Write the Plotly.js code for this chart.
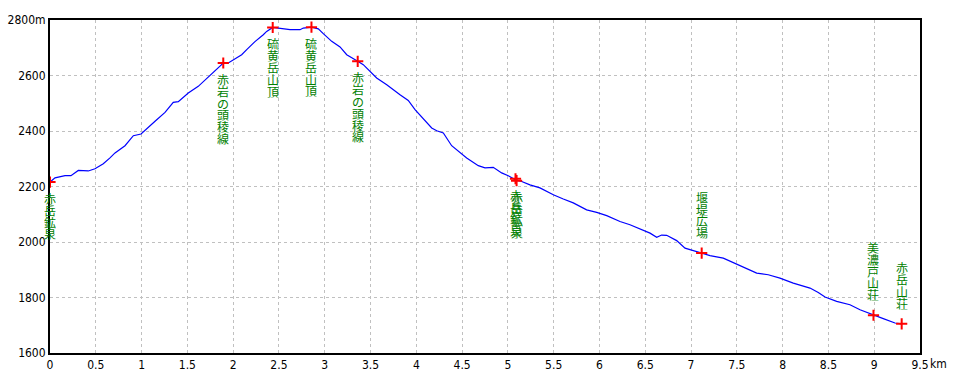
<!DOCTYPE html>
<html>
<head>
<meta charset="utf-8">
<script src="https://cdn.plot.ly/plotly-3.0.1.min.js"></script>
<style>
  html, body { margin: 0; padding: 0; background: #ffffff; }
  #chart { width: 960px; height: 384px; }
</style>
</head>
<body>
<div id="chart"></div>
<script>
// Elevation profile (distance in km, elevation in m)
const distKm = [0, 0.055, 0.164, 0.229, 0.309, 0.360, 0.418, 0.491, 0.582, 0.655,
  0.710, 0.819, 0.910, 0.994, 1.037, 1.147, 1.256, 1.346, 1.401, 1.510,
  1.619, 1.729, 1.802, 1.892, 1.947, 2.002, 2.093, 2.148, 2.238, 2.329,
  2.366, 2.432, 2.512, 2.621, 2.730, 2.766, 2.855, 2.930, 2.984, 3.076,
  3.167, 3.240, 3.360, 3.421, 3.567, 3.677, 3.822, 3.912, 3.986, 4.076,
  4.168, 4.223, 4.295, 4.386, 4.477, 4.550, 4.677, 4.750, 4.840, 4.932,
  5.004, 5.083, 5.151, 5.241, 5.350, 5.496, 5.605, 5.714, 5.860, 5.970,
  6.079, 6.224, 6.333, 6.478, 6.552, 6.625, 6.679, 6.734, 6.843, 6.934,
  7.024, 7.116, 7.207, 7.352, 7.498, 7.608, 7.717, 7.843, 7.971, 8.116,
  8.299, 8.389, 8.463, 8.590, 8.735, 8.845, 8.992, 9.099, 9.227, 9.300];
const elevM = [2216, 2231, 2239, 2239, 2258, 2258, 2256, 2264, 2282, 2303,
  2321, 2347, 2383, 2389, 2401, 2435, 2467, 2503, 2506, 2537,
  2561, 2595, 2618, 2645, 2645, 2657, 2675, 2693, 2722, 2747,
  2759, 2773, 2769, 2765, 2765, 2771, 2774, 2768, 2751, 2723,
  2703, 2675, 2651, 2639, 2591, 2567, 2531, 2510, 2477, 2443,
  2411, 2401, 2393, 2347, 2323, 2303, 2275, 2267, 2269, 2249,
  2239, 2224, 2218, 2206, 2195, 2170, 2155, 2141, 2116, 2107,
  2095, 2074, 2062, 2042, 2032, 2017, 2025, 2024, 2005, 1978,
  1969, 1960, 1951, 1942, 1921, 1906, 1888, 1882, 1870, 1852,
  1834, 1818, 1802, 1786, 1774, 1756, 1736, 1724, 1708, 1705];

// Waypoints
const wpNames = ['赤岳鉱泉', '赤岩の頭稜線', '硫黄岳山頂', '硫黄岳山頂', '赤岩の頭稜線',
  '赤岳鉱泉', '赤岳鉱泉', '堰堤広場', '美濃戸山荘', '赤岳山荘'];
const wpDist = [0, 1.892, 2.432, 2.855, 3.360, 5.083, 5.095, 7.116, 8.992, 9.300];
const wpElev = [2216, 2645, 2773, 2774, 2651, 2228, 2221, 1960, 1736, 1705];
const wpSide = ['below', 'below', 'below', 'below', 'below', 'below', 'below', 'above', 'above', 'above'];

// Axis ticks
const xTickVals = [0, 0.5, 1, 1.5, 2, 2.5, 3, 3.5, 4, 4.5, 5, 5.5, 6, 6.5, 7, 7.5, 8, 8.5, 9, 9.5];
const xTickText = ['0', '0.5', '1', '1.5', '2', '2.5', '3', '3.5', '4', '4.5', '5', '5.5', '6', '6.5', '7', '7.5', '8', '8.5', '9', '9.5'];
const yTickVals = [1600, 1800, 2000, 2200, 2400, 2600, 2800];
const yTickText = ['1600', '1800', '2000', '2200', '2400', '2600', '2800m'];

const tickFont = { family: '"Liberation Sans Narrow", "DejaVu Sans Condensed", "Liberation Sans", sans-serif', size: 12, color: '#000000' };
const cjkFont = { family: '"Noto Sans CJK JP", "Noto Sans CJK SC", sans-serif', size: 12, color: '#008000' };

const annotations = [];
const PITCH = 11.8;
wpNames.forEach((name, i) => {
  const chars = Array.from(name);
  const n = chars.length;
  chars.forEach((ch, j) => {
    const shift = wpSide[i] === 'below' ? -(17 + j * PITCH) : (20 + (n - 1 - j) * PITCH);
    annotations.push({
      x: wpDist[i], y: wpElev[i], xref: 'x', yref: 'y',
      text: ch, showarrow: false, xanchor: 'center', yanchor: 'middle',
      yshift: shift, font: cjkFont, borderpad: 0, width: 12, height: 11.6
    });
  });
});
annotations.push({
  x: 1, y: 0, xref: 'paper', yref: 'paper', text: 'km', showarrow: false,
  xanchor: 'left', yanchor: 'top', xshift: 9, yshift: -3, font: tickFont, borderpad: 0
});

const traces = [
  {
    x: distKm, y: elevM, type: 'scatter', mode: 'lines',
    line: { color: '#0000ff', width: 1.2 }, hoverinfo: 'skip'
  },
  {
    x: wpDist, y: wpElev, type: 'scatter', mode: 'markers',
    marker: { symbol: 'cross-thin', size: 8, line: { color: '#ff0000', width: 2 }, color: '#ff0000' },
    hoverinfo: 'skip'
  }
];

const gridStyle = { gridcolor: '#c0c0c0', griddash: '3px,3px', gridwidth: 1 };

const layout = {
  width: 960, height: 384,
  margin: { l: 50, r: 40, t: 20, b: 31, pad: 0 },
  paper_bgcolor: '#ffffff', plot_bgcolor: '#ffffff',
  showlegend: false,
  xaxis: Object.assign({
    range: [0, 9.5], tickmode: 'array', tickvals: xTickVals, ticktext: xTickText,
    showline: true, linecolor: '#000000', linewidth: 2, mirror: true,
    ticks: '', tickfont: tickFont, zeroline: false, showgrid: true, fixedrange: true
  }, gridStyle),
  yaxis: Object.assign({
    range: [1600, 2800], tickmode: 'array', tickvals: yTickVals, ticktext: yTickText,
    showline: true, linecolor: '#000000', linewidth: 2, mirror: true,
    ticks: '', tickfont: tickFont, zeroline: false, showgrid: true, fixedrange: true
  }, gridStyle),
  annotations: annotations
};

Plotly.newPlot('chart', traces, layout, { staticPlot: true, displayModeBar: false });
</script>
</body>
</html>
